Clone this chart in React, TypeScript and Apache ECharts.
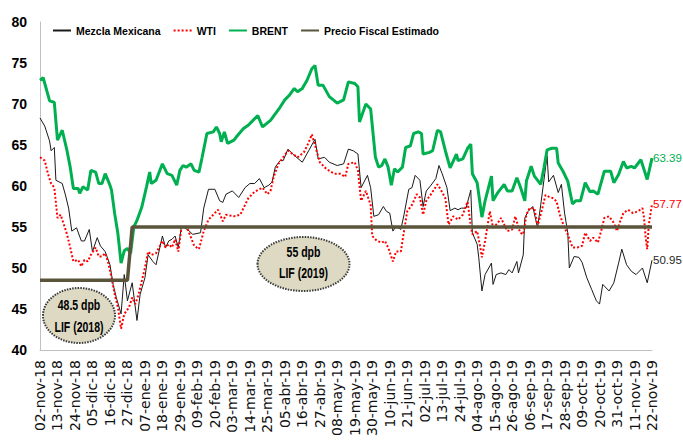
import React, { useEffect, useRef } from "react";
import * as echarts from "echarts";

// Tick labels: one every 11 calendar days starting 02-nov-18 (day 0)
const tickLabels = [
  "02-nov-18", "13-nov-18", "24-nov-18", "05-dic-18", "16-dic-18", "27-dic-18",
  "07-ene-19", "18-ene-19", "29-ene-19", "09-feb-19", "20-feb-19", "03-mar-19",
  "14-mar-19", "25-mar-19", "05-abr-19", "16-abr-19", "27-abr-19", "08-may-19",
  "19-may-19", "30-may-19", "10-jun-19", "21-jun-19", "02-jul-19", "13-jul-19",
  "24-jul-19", "04-ago-19", "15-ago-19", "26-ago-19", "06-sep-19", "17-sep-19",
  "28-sep-19", "09-oct-19", "20-oct-19", "31-oct-19", "11-nov-19", "22-nov-19",
];

const seriesNames = ["Mezcla Mexicana", "WTI", "BRENT", "Precio Fiscal Estimado"];

// [day offset from 02-nov-18, US$/barrel]
const mezcla = [
  [0,68.3],[3,67.3],[6,65.5],[7,64.3],[9,64.7],[10,60.7],[14,60.3],[16,58.9],[18,57.3],[20,54.5],
  [23,54.9],[26,53.3],[28,53.3],[31,54.7],[33,52.0],[36,53.7],[38,52.7],[41,52.0],[44,50.4],[46,48.0],
  [48,46.4],[51,44.4],[53,49.2],[55,46.0],[58,48.2],[61,43.6],[63,46.8],[66,48.8],[68,51.6],[71,50.8],
  [73,50.4],[77,53.9],[79,52.5],[81,53.3],[83,53.5],[85,53.9],[87,52.5],[89,55.1],[91,54.9],[94,54.5],
  [96,54.1],[101,54.3],[103,57.3],[106,59.6],[110,59.6],[113,58.2],[115,58.0],[117,59.0],[121,59.4],[125,58.6],
  [129,59.8],[132,60.3],[135,60.3],[138,60.9],[141,59.8],[144,60.1],[146,60.5],[148,62.3],[151,63.1],[153,63.1],
  [156,64.5],[159,63.9],[165,62.9],[169,64.3],[173,65.7],[175,63.3],[179,63.5],[182,62.9],[187,62.5],[191,62.7],
  [194,64.5],[197,64.3],[200,63.9],[202,59.8],[206,61.3],[208,59.8],[210,56.3],[213,56.5],[216,57.5],[218,56.9],
  [220,56.7],[222,54.5],[224,55.1],[227,54.7],[229,56.5],[232,59.6],[234,59.8],[236,61.3],[239,60.7],[241,57.5],
  [243,59.4],[246,60.1],[249,60.9],[251,62.5],[253,61.5],[256,59.8],[258,57.0],[261,57.3],[263,57.1],[265,57.3],
  [268,57.3],[271,59.5],[272,54.3],[275,52.9],[276,51.3],[278,47.2],[280,49.2],[284,50.6],[285,48.0],[287,49.2],
  [290,49.4],[293,49.2],[295,49.8],[297,49.4],[300,50.8],[301,49.4],[304,51.6],[305,56.1],[307,56.9],[310,57.5],
  [313,54.9],[315,57.7],[317,60.7],[319,63.7],[320,60.5],[323,61.3],[326,59.2],[328,60.2],[330,56.7],[332,54.3],
  [333,50.0],[336,51.4],[339,51.3],[341,50.7],[344,48.8],[347,47.4],[350,46.0],[352,45.6],[354,48.0],[358,47.2],
  [361,48.2],[364,50.6],[366,52.3],[369,50.4],[372,49.6],[375,49.2],[379,50.0],[382,48.2],[385,50.95],
];

const wti = [
  [0,63.5],[3,63.1],[5,61.5],[7,60.3],[9,59.8],[11,56.1],[13,56.5],[15,55.3],[17,54.1],[19,52.5],
  [21,50.8],[24,51.0],[26,50.2],[28,51.0],[30,50.8],[32,51.6],[35,52.5],[37,51.4],[39,51.4],[41,51.8],
  [43,50.6],[45,48.8],[47,46.8],[49,45.2],[51,42.6],[53,44.4],[56,45.2],[58,46.4],[60,45.6],[62,46.8],
  [64,48.4],[66,50.0],[68,52.0],[70,51.6],[73,51.8],[77,53.3],[79,52.5],[81,52.9],[83,52.5],[85,53.5],
  [87,52.0],[89,54.9],[91,55.1],[93,54.7],[95,53.7],[97,52.7],[100,52.3],[103,54.5],[106,55.9],[109,56.5],
  [112,57.1],[115,55.7],[117,56.5],[122,56.3],[126,56.5],[131,58.5],[135,59.3],[140,59.8],[143,59.0],[145,59.4],
  [147,61.1],[150,62.7],[153,63.5],[156,64.3],[159,63.9],[162,63.5],[166,64.1],[169,65.3],[171,66.3],[174,64.3],
  [176,62.9],[180,62.1],[185,61.5],[189,61.5],[192,61.1],[194,62.7],[198,62.9],[200,61.9],[202,58.2],[205,59.4],
  [208,57.7],[209,53.9],[212,53.3],[215,53.1],[217,53.3],[219,52.5],[222,50.8],[224,52.0],[227,52.0],[229,54.5],
  [231,56.9],[234,57.7],[237,59.0],[239,58.6],[241,56.5],[243,58.2],[246,59.0],[250,60.2],[252,59.6],[255,58.5],
  [257,55.3],[260,56.3],[263,55.9],[266,56.5],[269,58.1],[271,55.1],[272,54.1],[275,54.5],[277,52.5],[278,51.3],
  [280,53.3],[283,56.9],[285,54.9],[288,55.5],[290,56.1],[294,54.5],[297,54.7],[299,56.3],[302,54.3],[304,54.1],
  [306,56.5],[308,57.3],[311,57.3],[313,55.1],[316,57.3],[318,58.9],[320,58.7],[323,58.5],[325,58.1],[327,56.5],
  [330,54.9],[332,54.1],[335,52.5],[338,52.5],[341,52.7],[343,54.3],[346,53.3],[348,53.7],[351,53.1],[353,54.5],
  [355,56.1],[358,56.3],[361,55.5],[363,54.5],[365,55.7],[367,56.7],[370,57.1],[373,56.7],[376,56.9],[379,57.3],
  [380,56.1],[381,53.7],[382,52.3],[383,55.3],[385,57.77],
];

const brent = [
  [0,72.9],[2,73.2],[6,70.4],[9,70.2],[11,65.6],[14,66.8],[17,64.3],[19,62.3],[21,59.7],[24,59.7],
  [25,59.1],[27,59.9],[30,59.5],[32,61.9],[35,61.7],[37,60.3],[39,60.3],[41,61.5],[44,60.1],[45,59.5],
  [47,56.6],[49,54.2],[51,50.6],[53,52.1],[55,52.4],[57,51.8],[59,55.0],[61,55.8],[64,57.4],[67,59.9],
  [69,61.7],[70,60.3],[73,60.7],[75,61.7],[77,62.7],[80,61.5],[83,61.3],[86,60.1],[88,61.9],[90,62.5],
  [92,62.3],[95,62.7],[97,61.9],[100,61.7],[102,63.5],[105,66.4],[109,66.6],[111,67.2],[113,66.4],[114,65.4],
  [116,66.6],[118,65.2],[122,65.6],[124,66.1],[128,67.0],[131,67.4],[134,68.0],[137,68.6],[140,67.2],[145,68.0],
  [148,68.8],[151,69.6],[154,70.5],[157,71.1],[160,71.9],[162,71.5],[165,71.9],[168,72.9],[171,74.3],[173,74.7],
  [175,72.3],[178,72.3],[182,70.9],[187,70.1],[191,70.5],[194,72.7],[198,72.5],[200,72.1],[201,67.8],[205,70.0],
  [208,69.4],[211,63.5],[213,62.3],[215,62.5],[217,63.3],[219,62.3],[221,60.1],[223,62.1],[225,61.7],[228,62.3],
  [230,64.7],[233,64.9],[235,66.4],[238,66.6],[240,66.4],[241,63.9],[245,64.1],[247,64.3],[250,66.8],[252,66.6],
  [255,64.3],[258,62.2],[262,63.9],[263,63.1],[266,63.3],[269,64.6],[271,65.1],[272,61.5],[275,60.4],[278,56.2],
  [280,58.2],[284,61.2],[285,58.2],[288,59.2],[292,60.2],[294,59.4],[297,59.4],[300,61.0],[302,60.0],[305,58.2],
  [306,60.6],[309,62.4],[311,61.2],[315,60.2],[317,62.2],[319,64.4],[322,64.6],[325,64.6],[326,62.8],[329,61.8],
  [332,60.6],[335,57.8],[337,58.2],[340,58.2],[343,60.4],[346,59.3],[348,59.4],[351,59.0],[355,61.8],[359,61.8],
  [361,60.4],[364,61.4],[367,63.0],[369,62.2],[372,62.4],[374,62.2],[378,63.2],[382,60.8],[385,63.39],
];

const precioFiscal = [[0,48.5],[55,48.5],[58,55],[385,55]];

const annotationLines = [
  ["48.5 dpb", "LIF (2018)"],
  ["55 dpb", "LIF (2019)"],
];

const SANS = "'Liberation Sans', Arial, sans-serif";

export default function App() {
  const ref = useRef<HTMLDivElement>(null);

  useEffect(() => {
    document.body.style.margin = "0";
    if (!ref.current) return;
    const chart = echarts.init(ref.current, undefined, { renderer: "svg" });

    const endLabel = (color: string) => ({
      show: true,
      distance: 1,
      formatter: (p: any) => Number(p.value[1]).toFixed(2),
      color,
      fontFamily: SANS,
      fontSize: 11.5,
    });

    const ellipse = (cx: number, cy: number, rx: number, ry: number) => ({
      type: "ellipse",
      z: 100,
      shape: { cx, cy, rx, ry },
      style: { fill: "#ddd9c3", stroke: "#3a3a3a", lineWidth: 2, lineDash: [1.5, 1.2] },
    });
    const label = (text: string, x: number, y: number) => ({
      type: "text",
      z: 101,
      x,
      y,
      scaleY: 1.35,
      style: {
        text,
        fill: "#000",
        font: `bold 10.5px ${SANS}`,
        textAlign: "center",
        textVerticalAlign: "middle",
      },
    });

    chart.setOption({
      animation: false,
      grid: { left: 40, right: 31, top: 22, bottom: 97, containLabel: false },
      legend: {
        data: seriesNames,
        left: 47,
        top: 20,
        padding: 5,
        itemWidth: 18,
        itemHeight: 10,
        itemGap: 12,
        itemStyle: { opacity: 0, color: "transparent", borderWidth: 0 },
        textStyle: { fontFamily: SANS, fontWeight: "bold", fontSize: 10.5, color: "#000" },
      },
      xAxis: {
        type: "value",
        min: 0,
        max: 385,
        interval: 11,
        axisLine: { show: true, lineStyle: { color: "#c0c0c0", width: 1 } },
        axisTick: { show: false },
        splitLine: { show: false },
        axisLabel: {
          rotate: 90,
          margin: 10,
          fontFamily: "'DejaVu Sans', Verdana, sans-serif",
          fontSize: 14,
          color: "#111",
          showMinLabel: true,
          showMaxLabel: true,
          formatter: (v: number) => tickLabels[Math.round(v / 11)] ?? "",
        },
      },
      yAxis: {
        type: "value",
        min: 40,
        max: 80,
        interval: 5,
        axisLine: { show: true, lineStyle: { color: "#c0c0c0", width: 1 } },
        axisTick: { show: false },
        splitLine: { show: false },
        axisLabel: { fontFamily: SANS, fontWeight: "bold", fontSize: 14, color: "#000", margin: 13 },
      },
      series: [
        {
          name: seriesNames[0],
          type: "line",
          data: mezcla,
          showSymbol: false,
          symbol: "none",
          lineStyle: { color: "#1a1a1a", width: 1 },
          itemStyle: { color: "#1a1a1a" },
          endLabel: endLabel("#262626"),
          z: 3,
        },
        {
          name: seriesNames[1],
          type: "line",
          data: wti,
          showSymbol: false,
          symbol: "none",
          lineStyle: { color: "#ff0000", width: 2, type: [2, 2] },
          itemStyle: { color: "#ff0000" },
          endLabel: endLabel("#ff0000"),
          z: 4,
        },
        {
          name: seriesNames[2],
          type: "line",
          data: brent,
          showSymbol: false,
          symbol: "none",
          lineStyle: { color: "#00b050", width: 3 },
          itemStyle: { color: "#00b050" },
          endLabel: endLabel("#00b050"),
          z: 5,
        },
        {
          name: seriesNames[3],
          type: "line",
          data: precioFiscal,
          showSymbol: false,
          symbol: "none",
          lineStyle: { color: "#59543a", width: 3.5 },
          itemStyle: { color: "#59543a" },
          z: 6,
        },
      ],
      graphic: [
        ellipse(79, 315.5, 36, 27.5),
        label(annotationLines[0][0], 79, 305),
        label(annotationLines[0][1], 79, 327),
        ellipse(303.5, 264, 46, 27),
        label(annotationLines[1][0], 303.5, 252),
        label(annotationLines[1][1], 303.5, 273),
      ],
    });

    return () => chart.dispose();
  }, []);

  return <div ref={ref} style={{ width: 683, height: 447 }} />;
}
